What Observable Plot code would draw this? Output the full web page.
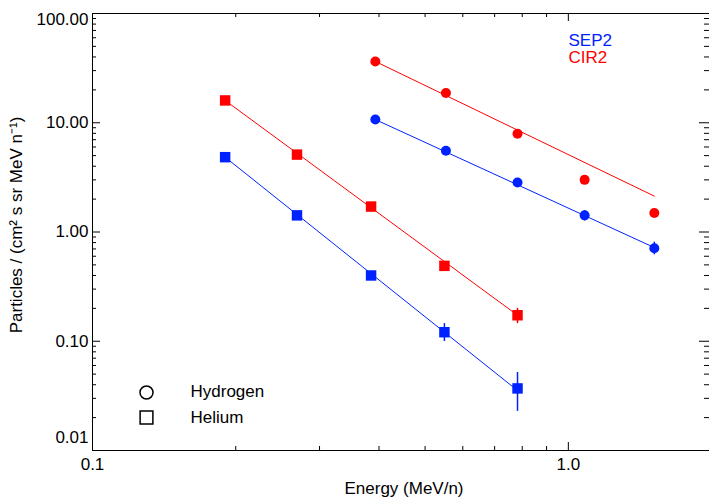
<!DOCTYPE html>
<html>
<head>
<meta charset="utf-8">
<script src="https://cdn.jsdelivr.net/npm/d3@7"></script>
<script src="https://cdn.jsdelivr.net/npm/@observablehq/plot@0.6"></script>
<style>
  html, body { margin: 0; padding: 0; background: white; }
  #chart svg { display: block; }
</style>
</head>
<body>
<div id="chart"></div>
<script>
// ---- Data ----
// Helium (squares)
const heEnergy = [0.190, 0.269, 0.385, 0.549, 0.782];
const heSEP2   = [4.84, 1.42, 0.40, 0.121, 0.037];
const heSEP2Lo = [4.65, 1.37, 0.385, 0.0995, 0.0228];
const heSEP2Hi = [5.03, 1.47, 0.415, 0.145, 0.0518];
const heCIR2   = [16.0, 5.11, 1.71, 0.49, 0.173];
const heCIR2Lo = [15.5, 4.95, 1.65, 0.47, 0.145];
const heCIR2Hi = [16.5, 5.27, 1.77, 0.51, 0.200];
// Hydrogen (circles)
const hEnergy  = [0.393, 0.553, 0.782, 1.082, 1.516];
const hSEP2    = [10.7, 5.54, 2.84, 1.42, 0.711];
const hSEP2Lo  = [10.4, 5.38, 2.75, 1.26, 0.618];
const hSEP2Hi  = [11.0, 5.70, 2.93, 1.57, 0.807];
const hCIR2    = [36.4, 18.7, 7.92, 3.00, 1.49];
const hCIR2Lo  = [35.5, 18.2, 7.70, 2.90, 1.44];
const hCIR2Hi  = [37.3, 19.2, 8.10, 3.10, 1.54];
// Power-law fit lines (end points)
const fitHEnergy  = [0.393, 1.516];
const fitHSEP2    = [10.7, 0.72];
const fitHCIR2    = [36.4, 2.13];
const fitHeEnergy = [0.190, 0.782];
const fitHeSEP2   = [4.84, 0.0354];
const fitHeCIR2   = [16.0, 0.173];

// Series / legend labels
const seriesNames = ["SEP2", "CIR2"];
const speciesNames = ["Hydrogen", "Helium"];

// Axes
const xTicks = [0.1, 1.0];
const xTickLabels = ["0.1", "1.0"];
const yTicks = [0.01, 0.1, 1, 10, 100];
const yTickLabels = ["0.01", "0.10", "1.00", "10.00", "100.00"];
const xLabel = "Energy (MeV/n)";
const yLabel = "Particles / (cm\u00B2 s sr MeV n\u207B\u00B9)";

// ---- Build tables ----
const BLUE = "#0022ff", RED = "#ff0000";
const pts = (E, F, lo, hi, series) => E.map((e, i) => ({e, f: F[i], lo: lo[i], hi: hi[i], series}));
const heS = pts(heEnergy, heSEP2, heSEP2Lo, heSEP2Hi, "SEP2");
const heC = pts(heEnergy, heCIR2, heCIR2Lo, heCIR2Hi, "CIR2");
const hS  = pts(hEnergy, hSEP2, hSEP2Lo, hSEP2Hi, "SEP2");
const hC  = pts(hEnergy, hCIR2, hCIR2Lo, hCIR2Hi, "CIR2");
const fit = (E, F, series) => E.map((e, i) => ({e, f: F[i], series}));
const fits = [
  ...fit(fitHEnergy, fitHSEP2, "H-SEP2"), ...fit(fitHEnergy, fitHCIR2, "H-CIR2"),
  ...fit(fitHeEnergy, fitHeSEP2, "He-SEP2"), ...fit(fitHeEnergy, fitHeCIR2, "He-CIR2")
];
const fitColor = s => s.endsWith("SEP2") ? BLUE : RED;

const xMinor = [];
for (const d of [0.1, 1]) for (let k = 2; k <= 9; k++) if (d * k < 1.98) xMinor.push(d * k);
const yMinor = [];
for (const d of [0.01, 0.1, 1, 10]) for (let k = 2; k <= 9; k++) yMinor.push(d * k);

const W = 709, H = 499, mL = 92, mR = 0, mT = 13, mB = 49;
const fw = W - mL - mR, fh = H - mT - mB;
const yLab = new Map(yTicks.map((t, i) => [t, yTickLabels[i]]));
const xLab = new Map(xTicks.map((t, i) => [t, xTickLabels[i]]));

const plot = Plot.plot({
  width: W, height: H,
  marginLeft: mL, marginRight: mR, marginTop: mT, marginBottom: mB,
  x: {type: "log", domain: [0.1, 1.98], axis: null},
  y: {type: "log", domain: [0.01, 100], axis: null},
  style: {fontFamily: "Liberation Sans, Arial, Helvetica, sans-serif", fontSize: "17px", background: "white", color: "black", overflow: "visible"},
  marks: [
    Plot.frame({stroke: "black", strokeWidth: 1}),
    // ticks (inward on all four sides)
    Plot.ruleX(xTicks, {x: d => d, insetTop: fh - 8, stroke: "black"}),
    Plot.ruleX(xMinor, {x: d => d, insetTop: fh - 4, stroke: "black"}),
    Plot.ruleX(xTicks, {x: d => d, insetBottom: fh - 8, stroke: "black"}),
    Plot.ruleX(xMinor, {x: d => d, insetBottom: fh - 4, stroke: "black"}),
    Plot.ruleY(yTicks, {y: d => d, insetRight: fw - 8, stroke: "black"}),
    Plot.ruleY(yMinor, {y: d => d, insetRight: fw - 4, stroke: "black"}),
    Plot.ruleY(yTicks, {y: d => d, insetLeft: fw - 10, stroke: "black"}),
    Plot.ruleY(yMinor, {y: d => d, insetLeft: fw - 5, stroke: "black"}),
    // tick labels
    Plot.text(xTicks, {x: d => d, text: d => xLab.get(d), frameAnchor: "bottom", textAnchor: "middle", lineAnchor: "top", dy: 7, fill: "black"}),
    Plot.text(yTicks.slice(1, -1), {y: d => d, text: d => yLab.get(d), frameAnchor: "left", textAnchor: "end", lineAnchor: "middle", dx: -4, fill: "black"}),
    Plot.text(yTicks.slice(0, 1), {y: d => d, text: d => yLab.get(d), frameAnchor: "left", textAnchor: "end", lineAnchor: "middle", dx: -4, dy: -13, fill: "black"}),
    Plot.text(yTicks.slice(-1), {y: d => d, text: d => yLab.get(d), frameAnchor: "left", textAnchor: "end", lineAnchor: "middle", dx: -4, dy: 6, fill: "black"}),
    // axis titles
    Plot.text([xLabel], {text: d => d, frameAnchor: "bottom", textAnchor: "middle", lineAnchor: "middle", dx: 3, dy: 38.5, fill: "black"}),
    Plot.text([yLabel], {text: d => d, frameAnchor: "left", textAnchor: "middle", lineAnchor: "middle", rotate: -90, dx: -75.5, dy: -7, fill: "black"}),
    // fit lines
    Plot.line(fits, {x: "e", y: "f", z: "series", stroke: d => fitColor(d.series), strokeWidth: 1}),
    // error bars
    Plot.ruleX([...heS, ...hS], {x: "e", y1: "lo", y2: "hi", stroke: BLUE, strokeWidth: 1.5}),
    Plot.ruleX([...heC, ...hC], {x: "e", y1: "lo", y2: "hi", stroke: RED, strokeWidth: 1.5}),
    // markers
    Plot.dot(heS, {x: "e", y: "f", symbol: "square", r: 5.9, fill: BLUE}),
    Plot.dot(heC, {x: "e", y: "f", symbol: "square", r: 5.9, fill: RED}),
    Plot.dot(hS, {x: "e", y: "f", r: 5, fill: BLUE}),
    Plot.dot(hC, {x: "e", y: "f", r: 5, fill: RED}),
    // legends
    Plot.text([seriesNames[0]], {text: d => d, frameAnchor: "top-left", textAnchor: "start", lineAnchor: "middle", dx: 476, dy: 27, fill: BLUE}),
    Plot.text([seriesNames[1]], {text: d => d, frameAnchor: "top-left", textAnchor: "start", lineAnchor: "middle", dx: 476, dy: 44.5, fill: RED}),
    Plot.dot([speciesNames[0]], {frameAnchor: "bottom-left", dx: 54, dy: -58, r: 6.5, fill: "none", stroke: "black", strokeWidth: 1.5}),
    Plot.dot([speciesNames[1]], {frameAnchor: "bottom-left", dx: 54, dy: -33, r: 7.2, symbol: "square", fill: "none", stroke: "black", strokeWidth: 1.5}),
    Plot.text([speciesNames[0]], {text: d => d, frameAnchor: "bottom-left", textAnchor: "start", lineAnchor: "middle", dx: 98, dy: -59.4, fill: "black"}),
    Plot.text([speciesNames[1]], {text: d => d, frameAnchor: "bottom-left", textAnchor: "start", lineAnchor: "middle", dx: 98, dy: -33.4, fill: "black"})
  ]
});
document.getElementById("chart").appendChild(plot);
</script>
</body>
</html>
